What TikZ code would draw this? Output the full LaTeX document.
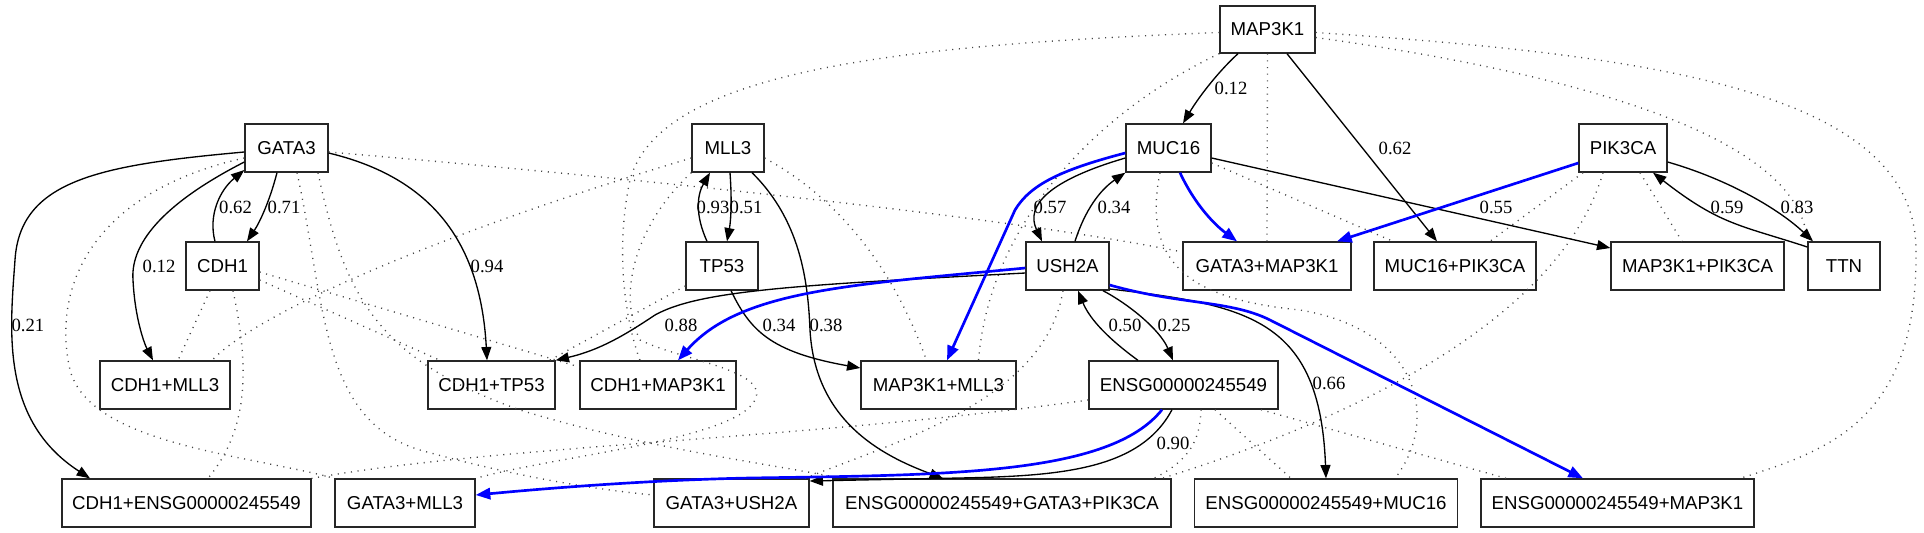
\documentclass[tikz,border=0pt]{standalone}
\usepackage{fontspec}
\setmainfont{Liberation Serif}
\newfontfamily\gvsans{Liberation Sans}
\usetikzlibrary{arrows.meta,calc}
\definecolor{dotgray}{RGB}{70,70,70}
\begin{document}
\begin{tikzpicture}[x=0.75pt,y=-0.75pt,
 nb/.style={draw=black!85, line width=1pt, rectangle, minimum width=#1*0.75pt, minimum height=36pt, inner sep=0pt, font=\gvsans\fontsize{14}{16}\selectfont},
 lbl/.style={font=\fontsize{14}{16}\selectfont, inner sep=0pt},
 ed/.style={draw=black, line width=1pt, -{Triangle[length=10pt,width=7.5pt]}},
 be/.style={draw=blue, line width=2pt, -{Triangle[length=11pt,width=8.5pt]}},
 dt/.style={draw=dotgray, line width=1pt, dash pattern=on 0.8pt off 4.2pt},
]
\useasboundingbox (0,0) rectangle (1924,532);
% nodes
\node[nb=95, minimum height=35.25pt] (M) at (1267.5,29.5) {MAP3K1};
\node[nb=83] (G) at (286.5,148) {GATA3};
\node[nb=72] (L) at (728,148) {MLL3};
\node[nb=85] (U) at (1168.5,148) {MUC16};
\node[nb=88] (P) at (1623,148) {PIK3CA};
\node[nb=73] (C) at (222.5,266) {CDH1};
\node[nb=72] (T) at (722,266) {TP53};
\node[nb=83] (H) at (1067.5,266) {USH2A};
\node[nb=168] (GM) at (1267,266) {GATA3+MAP3K1};
\node[nb=162] (UP) at (1455,266) {MUC16+PIK3CA};
\node[nb=173] (MP) at (1697.5,266) {MAP3K1+PIK3CA};
\node[nb=72] (N) at (1844,266) {TTN};
\node[nb=130] (CL) at (165,385) {CDH1+MLL3};
\node[nb=127] (CT) at (491.5,385) {CDH1+TP53};
\node[nb=156] (CM) at (658,385) {CDH1+MAP3K1};
\node[nb=155] (ML) at (938.5,385) {MAP3K1+MLL3};
\node[nb=189] (E) at (1183.5,385) {ENSG00000245549};
\node[nb=249] (CE) at (186.5,503) {CDH1+ENSG00000245549};
\node[nb=140] (GL) at (405,503) {GATA3+MLL3};
\node[nb=155] (GH) at (731.5,503) {GATA3+USH2A};
\node[nb=338] (EGP) at (1002,503) {ENSG00000245549+GATA3+PIK3CA};
\node[nb=263] (EU) at (1326,503) {ENSG00000245549+MUC16};
\node[nb=273] (EM) at (1617.5,503) {ENSG00000245549+MAP3K1};

% dotted edges
\draw[dt] ($(C.south)+(-12.5,0)$) -- ($(CL.north)+(13,0)$);
\draw[dt] ($(C.south)+(10.5,0)$) .. controls (250,370) and (248,430) .. ($(CE.north)+(21.5,0)$);
\draw[dt] ($(L.west)+(0,10)$) .. controls (450,230) and (260,310) .. ($(CL.north)+(47,0)$);
\draw[dt] ($(G.west)+(0,10)$) .. controls (100,190) and (50,280) .. (70,370) .. controls (90,445) and (250,455) .. (GL.north west);
\draw[dt] (L.south west) .. controls (640,220) and (615,290) .. (640,340) .. controls (680,360) and (770,370) .. (755,400) .. controls (735,440) and (560,455) .. (GL.north east);
\draw[dt] ($(C.east)+(0,14)$) -- ($(CT.north)+(-51.5,0)$);
\draw[dt] ($(C.east)+(0,6)$) -- ($(CM.west)+(0,-18)$);
\draw[dt] ($(T.west)+(0,20)$) -- ($(CT.north)+(58,0)$);
\draw[dt] ($(M.west)+(0,3)$) .. controls (900,45) and (660,70) .. (630,180) .. controls (615,250) and (625,320) .. ($(CM.north)+(-18,0)$);
\draw[dt] ($(G.south)+(10.5,0)$) .. controls (325,300) and (320,420) .. (420,450) .. controls (520,478) and (600,490) .. ($(GH.west)+(0,-8)$);
\draw[dt] ($(G.south)+(31.5,0)$) .. controls (345,300) and (380,360) .. (520,410) .. controls (650,450) and (780,465) .. ($(EGP.north)+(-162,0)$);
\draw[dt] ($(G.east)+(0,4)$) .. controls (600,175) and (1000,215) .. ($(GM.west)+(0,-14)$);
\draw[dt] (M.south) -- (GM.north);
\draw[dt] (M.south west) .. controls (1100,110) and (990,220) .. ($(ML.north)+(40,0)$);
\draw[dt] ($(L.east)+(0,10)$) .. controls (860,210) and (905,300) .. ($(ML.north)+(-12,0)$);
\draw[dt] ($(H.south)+(-4.5,0)$) .. controls (1045,400) and (900,440) .. ($(GH.north)+(73.5,0)$);
\draw[dt] ($(E.west)+(0,15)$) .. controls (800,440) and (500,445) .. (CE.north east);
\draw[dt] ($(E.south)+(17.5,0)$) .. controls (1200,440) and (1190,460) .. ($(EGP.north)+(152,0)$);
\draw[dt] ($(E.south)+(31.5,0)$) -- ($(EU.north)+(-35,0)$);
\draw[dt] ($(E.south)+(77.5,0)$) -- ($(EM.north)+(-111.5,0)$);
\draw[dt] ($(U.south)+(-8.5,0)$) .. controls (1140,270) and (1200,300) .. (1300,310) .. controls (1420,330) and (1440,420) .. ($(EU.north)+(69,0)$);
\draw[dt] ($(P.south)+(-20,0)$) .. controls (1560,320) and (1350,420) .. ($(EGP.north)+(160,0)$);
\draw[dt] ($(P.south)+(-40,0)$) -- ($(UP.north)+(35,0)$);
\draw[dt] ($(U.east)+(0,15)$) -- ($(UP.north)+(-62,0)$);
\draw[dt] ($(P.south)+(17,0)$) -- ($(MP.north)+(-15.5,0)$);
\draw[dt] ($(M.east)+(0,3)$) .. controls (1650,55) and (1915,90) .. (1916,250) .. controls (1918,420) and (1830,450) .. ($(EM.north)+(122.5,0)$);
\draw[dt] ($(M.east)+(0,8)$) .. controls (1550,70) and (1800,130) .. (N.north west);

% solid black edges
\draw[ed] ($(M.south)+(-29.5,0)$) .. controls (1220,70) and (1200,95) .. ($(U.north)+(14.5,0)$);
\draw[ed] ($(M.south)+(19.5,0)$) -- ($(UP.north)+(-18,0)$);
\draw[ed] ($(G.south)+(-9.5,0)$) .. controls (270,200) and (260,222) .. ($(C.north)+(24.5,0)$);
\draw[ed] ($(C.north)+(-7.5,0)$) .. controls (208,215) and (220,190) .. ($(G.west)+(0,22)$);
\draw[ed] ($(G.west)+(0,14)$) .. controls (170,200) and (130,240) .. (133,280) .. controls (135,320) and (145,345) .. ($(CL.north)+(-12,0)$);
\draw[ed] ($(G.west)+(0,4)$) .. controls (100,165) and (20,180) .. (15,260) .. controls (10,330) and (0,420) .. ($(CE.north)+(-96.5,0)$);
\draw[ed] ($(G.east)+(0,5)$) .. controls (420,175) and (480,230) .. ($(CT.north)+(-4.5,0)$);
\draw[ed] ($(L.south)+(2,0)$) .. controls (732,200) and (731,220) .. ($(T.north)+(5,0)$);
\draw[ed] ($(T.north)+(-15,0)$) .. controls (695,215) and (697,195) .. ($(L.south)+(-18,0)$);
\draw[ed] ($(L.south)+(24,0)$) .. controls (800,220) and (808,280) .. (810,330) .. controls (815,420) and (880,455) .. ($(EGP.north)+(-59,0)$);
\draw[ed] ($(T.south)+(9,0)$) .. controls (750,330) and (770,352) .. ($(ML.west)+(0,-17)$);
\draw[ed] ($(H.west)+(0,7)$) .. controls (800,285) and (700,290) .. (655,315) .. controls (625,335) and (600,350) .. (CT.north east);
\draw[ed] ($(U.west)+(0,10)$) .. controls (1050,180) and (1025,205) .. ($(H.north)+(-25.5,0)$);
\draw[ed] ($(H.north)+(7.5,0)$) .. controls (1085,210) and (1100,190) .. (U.south west);
\draw[ed] ($(H.south)+(35.5,0)$) .. controls (1130,305) and (1160,330) .. ($(E.north)+(-10.5,0)$);
\draw[ed] ($(E.north)+(-45.5,0)$) .. controls (1110,340) and (1090,320) .. ($(H.south)+(10.5,0)$);
\draw[ed] ($(H.east)+(0,23)$) .. controls (1250,305) and (1320,320) .. (EU.north);
\draw[ed] ($(U.east)+(0,10)$) -- ($(MP.west)+(0,-18)$);
\draw[ed] ($(P.east)+(0,14)$) .. controls (1730,180) and (1780,210) .. ($(N.north)+(-31,0)$);
\draw[ed] ($(N.west)+(0,-19)$) .. controls (1740,225) and (1720,225) .. ($(P.south)+(30,0)$);
\draw[ed] ($(E.south)+(-11.5,0)$) .. controls (1140,470) and (1060,476) .. (960,478) -- ($(GH.east)+(0,-22)$);

% blue edges
\draw[be] ($(U.south)+(11.5,0)$) .. controls (1195,205) and (1215,225) .. ($(GM.north)+(-30,0)$);
\draw[be] ($(P.west)+(0,15)$) -- ($(GM.north)+(70,0)$);
\draw[be] ($(U.west)+(0,5)$) .. controls (1060,170) and (1030,185) .. (1015,210) -- ($(ML.north)+(8.5,0)$);
\draw[be] ($(H.west)+(0,2)$) .. controls (850,285) and (740,290) .. ($(CM.north)+(20,0)$);
\draw[be] ($(H.east)+(0,19)$) .. controls (1180,305) and (1230,300) .. (1270,320) -- ($(EM.north)+(-34.5,0)$);
\draw[be] ($(E.south)+(-21.5,0)$) .. controls (1110,475) and (950,475) .. (750,478) .. controls (650,480) and (550,488) .. ($(GL.east)+(0,-8)$);

% edge labels
\node[lbl] (l01) at (1231,88) {0.12};
\node[lbl] (l02) at (1395,148) {0.62};
\node[lbl] (l03) at (1050,207) {0.57};
\node[lbl] (l04) at (1114,207) {0.34};
\node[lbl] (l05) at (1125,325) {0.50};
\node[lbl] (l06) at (1174,325) {0.25};
\node[lbl] (l07) at (1329,383) {0.66};
\node[lbl] (l08) at (1173,443) {0.90};
\node[lbl] (l09) at (235.5,207) {0.62};
\node[lbl] (l10) at (284,207) {0.71};
\node[lbl] (l11) at (159,266) {0.12};
\node[lbl] (l12) at (28,325) {0.21};
\node[lbl] (l13) at (487,266) {0.94};
\node[lbl] (l14) at (713,207) {0.93};
\node[lbl] (l15) at (746,207) {0.51};
\node[lbl] (l16) at (681,325) {0.88};
\node[lbl] (l17) at (779,325) {0.34};
\node[lbl] (l18) at (826,325) {0.38};
\node[lbl] (l19) at (1496,207) {0.55};
\node[lbl] (l20) at (1727,207) {0.59};
\node[lbl] (l21) at (1797,207) {0.83};
\end{tikzpicture}
\end{document}
